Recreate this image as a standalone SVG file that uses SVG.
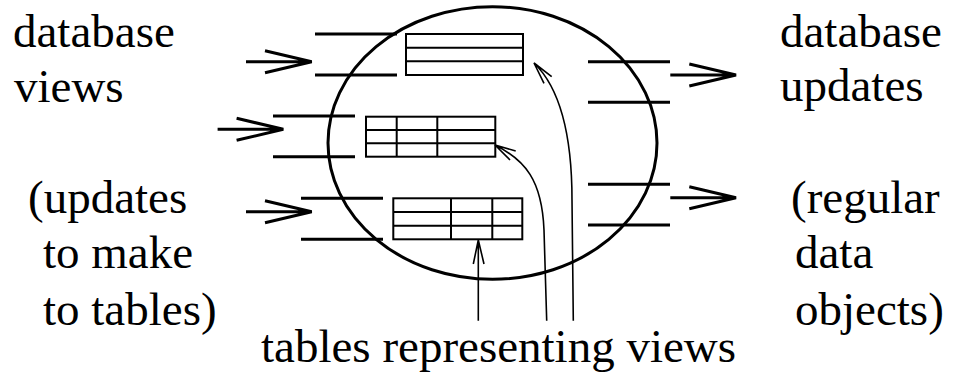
<svg xmlns="http://www.w3.org/2000/svg" width="968" height="376" viewBox="0 0 968 376">
<defs>
<path id="arrowR" d="M0 0H65.7M19 -11L65.7 0L19 11" stroke="#000" stroke-width="3" fill="none"/>
</defs>
<rect width="968" height="376" fill="#fff"/>
<g id="process">
<ellipse cx="492.5" cy="143" rx="164.5" ry="136.3" stroke="#000" stroke-width="3" fill="none"/>
</g>
<g id="table1" stroke="#000" stroke-width="2" fill="none">
<rect x="406" y="34" width="117" height="41"/>
<path d="M406 47.7H523M406 61.3H523"/>
</g>
<g id="table2" stroke="#000" stroke-width="2" fill="none">
<rect x="366" y="116.7" width="129.3" height="40"/>
<path d="M366 130H495.3M366 143.3H495.3M396.7 116.7V156.7M437.3 116.7V156.7"/>
</g>
<g id="table3" stroke="#000" stroke-width="2" fill="none">
<rect x="393.3" y="198.3" width="129" height="41"/>
<path d="M393.3 212H522.3M393.3 225.7H522.3M451 198.3V239.3M492.3 198.3V239.3"/>
</g>
<g id="connectors" stroke="#000" fill="none">
<path stroke-width="3" d="M315 34H397M315 75H397M273 116H355M273 156.7H355M301 198.3H383M301 239.3H383"/>
<path stroke-width="3" d="M588 61.7H670M588 102.3H670M588 184.3H670M588 225H670"/>
<use href="#arrowR" x="246" y="61.7"/>
<use href="#arrowR" x="217.6" y="129.3"/>
<use href="#arrowR" x="246" y="211.7"/>
<use href="#arrowR" x="670.3" y="75"/>
<use href="#arrowR" x="670.3" y="197.7"/>
<path stroke-width="1.6" d="M478.3 320.7V240M473.3 264L478.3 240L484 264"/>
<path stroke-width="1.6" d="M546.7 320.7L544 230C542 180 525 160 495 145M515.7 151L495 145L510 160"/>
<path stroke-width="1.6" d="M573.3 320.7L572 200C572 135 560 88 534 63M551.7 76.7L534 63L544 83.3"/>
</g>
<g id="labels">
<text x="13" y="47" font-family="Times New Roman" font-size="47">database</text>
<text x="14" y="102" font-family="Times New Roman" font-size="47">views</text>
<text x="28" y="213" font-family="Times New Roman" font-size="47">(updates</text>
<text x="43" y="268" font-family="Times New Roman" font-size="47">to make</text>
<text x="43" y="325" font-family="Times New Roman" font-size="47">to tables)</text>
<text x="780" y="47" font-family="Times New Roman" font-size="47">database</text>
<text x="780" y="101" font-family="Times New Roman" font-size="47">updates</text>
<text x="791" y="213" font-family="Times New Roman" font-size="47">(regular</text>
<text x="795" y="268" font-family="Times New Roman" font-size="47">data</text>
<text x="795" y="325" font-family="Times New Roman" font-size="47">objects)</text>
<text x="261" y="362" font-family="Times New Roman" font-size="47">tables representing views</text>
</g>
</svg>
